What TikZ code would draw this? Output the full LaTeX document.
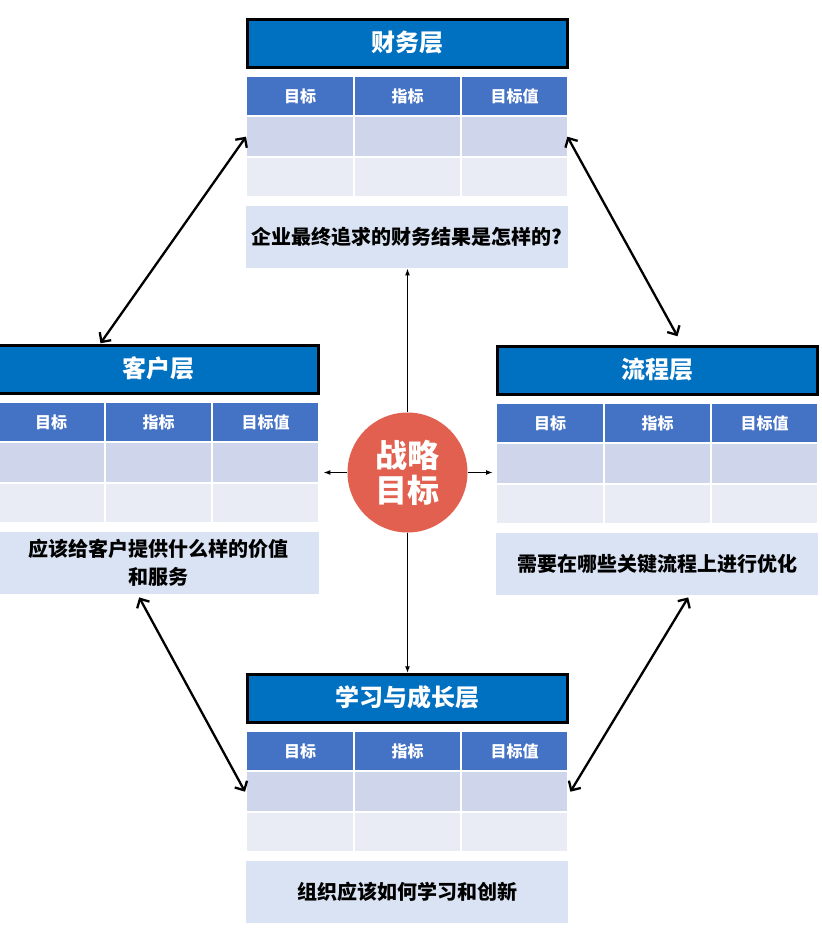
\documentclass[tikz,border=0pt]{standalone}
\usepackage{fontspec}
\setmainfont{Noto Sans CJK SC}
\usetikzlibrary{arrows.meta,calc}
\definecolor{titleblue}{HTML}{0070C0}
\definecolor{headblue}{HTML}{4472C4}
\definecolor{rowa}{HTML}{CFD5EA}
\definecolor{rowb}{HTML}{E9EBF5}
\definecolor{qfill}{HTML}{DAE3F3}
\definecolor{goalred}{HTML}{E2604F}
\tikzset{
  titlebox/.style={draw=black, line width=2.5pt, fill=titleblue, text=white,
    font=\fontsize{24}{28}\selectfont\bfseries, minimum width=320pt, minimum height=48pt,
    inner sep=0pt, anchor=north west},
  hdrcell/.style={fill=headblue, text=white, font=\fontsize{16}{19}\selectfont\bfseries,
    minimum height=38pt, inner sep=0pt, anchor=north west},
  rowacell/.style={fill=rowa, minimum height=39pt, inner sep=0pt, anchor=north west},
  rowbcell/.style={fill=rowb, minimum height=38pt, inner sep=0pt, anchor=north west},
  qbox/.style={fill=qfill, text=black, font=\fontsize{20}{28}\selectfont\bfseries,
    minimum width=322pt, minimum height=62pt, inner sep=0pt, anchor=north west, align=center},
  goal/.style={circle, fill=goalred, text=white, minimum size=120pt, inner sep=0pt,
    font=\fontsize{32}{35}\selectfont\bfseries, align=center},
  dbl/.style={line width=2.3pt, {Straight Barb[length=7pt,width=14pt]}-{Straight Barb[length=7pt,width=14pt]}},
  ctr/.style={line width=1.5pt, -{Latex[length=7pt,width=5pt]}}
}
\newcommand{\bscpanel}[5]{%
  \node[titlebox] (#1-title) at (#2+1.25,#3+1.25) {\raisebox{4pt}{#4}};
  \node[hdrcell, minimum width=106pt] (#1-h1) at (#2+2,#3+60) {目标};
  \node[hdrcell, minimum width=105pt] (#1-h2) at (#2+110,#3+60) {指标};
  \node[hdrcell, minimum width=105pt] (#1-h3) at (#2+217,#3+60) {目标值};
  \node[rowacell, minimum width=106pt] (#1-a1) at (#2+2,#3+100) {};
  \node[rowacell, minimum width=105pt] (#1-a2) at (#2+110,#3+100) {};
  \node[rowacell, minimum width=105pt] (#1-a3) at (#2+217,#3+100) {};
  \node[rowbcell, minimum width=106pt] (#1-b1) at (#2+2,#3+141) {};
  \node[rowbcell, minimum width=105pt] (#1-b2) at (#2+110,#3+141) {};
  \node[rowbcell, minimum width=105pt] (#1-b3) at (#2+217,#3+141) {};
  \node[qbox] (#1-q) at (#2+1,#3+189) {#5};
}
\begin{document}
\begin{tikzpicture}[x=1pt, y=-1pt]
\useasboundingbox (0,0) rectangle (822,938);
\fill[white] (0,0) rectangle (822,938);
\bscpanel{T}{245}{17}{财务层}{企业最终追求的财务结果是怎样的?}
\bscpanel{L}{-4}{343}{客户层}{应该给客户提供什么样的价值\\和服务}
\bscpanel{R}{495}{344}{流程层}{需要在哪些关键流程上进行优化}
\bscpanel{B}{245}{672}{学习与成长层}{组织应该如何学习和创新}
\node[goal] (C) at (407.5,472.5) {战略\\目标};
\coordinate (lt) at ($(L-a3.east)+(5,0)$);
\coordinate (rt) at ($(R-a1.west)+(-4,0)$);
\draw[ctr] (C.north) -- (C.north |- T-q.south);
\draw[ctr] (C.south) -- (C.south |- B-title.north);
\draw[ctr] (C.west) -- (C.west -| lt);
\draw[ctr] (C.east) -- (C.east -| rt);
\draw[dbl] ([xshift=-1pt]T-a1.west) -- ([xshift=-58pt,yshift=1pt]L-title.north);
\draw[dbl] (T-a3.east) -- ([xshift=20pt,yshift=9pt]R-title.north);
\draw[dbl] ([xshift=-19pt,yshift=-3pt]L-q.south) -- ([xshift=-2pt]B-a1.west);
\draw[dbl] ([xshift=31pt,yshift=-2pt]R-q.south) -- ([xshift=3pt]B-a3.east);
\end{tikzpicture}
\end{document}
